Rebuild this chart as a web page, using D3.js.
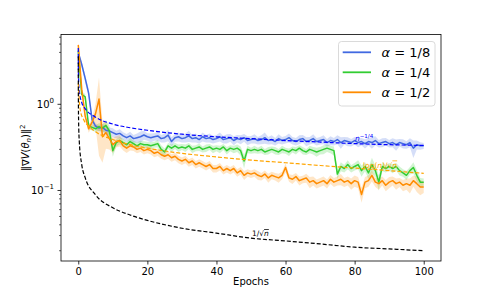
<!DOCTYPE html>
<html><head><meta charset="utf-8">
<script src="https://cdn.jsdelivr.net/npm/d3@7/dist/d3.min.js"></script>
<style>body{margin:0;background:#fff}svg{display:block;font-family:"DejaVu Sans",sans-serif}</style>
</head><body><svg id="c" width="491" height="294"></svg>
<script>
const epochs = d3.range(0, 101);
const seriesNames = ["α = 1/8", "α = 1/4", "α = 1/2"];
const seriesColors = ["#4169e1", "#32cd32", "#ff8c00"];
const blueVals = [
4.0,2.9,2.0,1.35,0.66,0.56,0.53,0.54,0.50,0.49,
0.47,0.45,0.46,0.43,0.41,0.43,0.40,0.41,0.42,0.44,
0.42,0.41,0.42,0.43,0.40,0.41,0.44,0.37,0.41,0.42,
0.40,0.41,0.43,0.40,0.41,0.39,0.42,0.40,0.41,0.39,
0.40,0.42,0.39,0.40,0.41,0.38,0.40,0.39,0.41,0.38,
0.39,0.40,0.38,0.39,0.41,0.38,0.39,0.37,0.40,0.38,
0.39,0.41,0.38,0.37,0.39,0.40,0.37,0.38,0.40,0.37,
0.38,0.39,0.36,0.38,0.37,0.39,0.36,0.38,0.37,0.36,
0.38,0.36,0.37,0.35,0.37,0.36,0.38,0.35,0.36,0.37,
0.35,0.36,0.34,0.36,0.35,0.34,0.36,0.31,0.34,0.33,0.33];
const greenVals = [
4.2,1.3,1.22,0.56,0.54,0.52,0.55,0.53,0.57,0.49,
0.29,0.36,0.38,0.36,0.34,0.37,0.35,0.33,0.35,0.34,
0.34,0.33,0.34,0.35,0.30,0.28,0.33,0.31,0.33,0.31,
0.32,0.31,0.33,0.30,0.31,0.32,0.30,0.31,0.32,0.30,
0.31,0.30,0.32,0.29,0.31,0.30,0.31,0.29,0.22,0.30,
0.29,0.30,0.29,0.30,0.28,0.29,0.30,0.29,0.28,0.30,
0.29,0.28,0.30,0.29,0.31,0.29,0.28,0.30,0.29,0.28,
0.29,0.30,0.31,0.30,0.29,0.155,0.19,0.18,0.20,0.18,
0.19,0.20,0.17,0.19,0.16,0.20,0.17,0.125,0.19,0.18,
0.19,0.18,0.19,0.17,0.16,0.15,0.17,0.185,0.15,0.125,0.125];
const orangeVals = [
4.9,1.5,0.73,0.52,0.62,0.78,1.15,0.42,0.47,0.40,
0.34,0.37,0.38,0.33,0.31,0.33,0.32,0.30,0.31,0.29,
0.30,0.29,0.27,0.28,0.26,0.25,0.26,0.24,0.25,0.23,
0.22,0.23,0.21,0.22,0.20,0.21,0.20,0.19,0.20,0.18,
0.18,0.19,0.17,0.18,0.17,0.18,0.16,0.17,0.15,0.16,
0.155,0.16,0.15,0.145,0.155,0.14,0.15,0.145,0.14,0.15,
0.185,0.14,0.135,0.145,0.13,0.135,0.14,0.125,0.13,0.12,
0.125,0.13,0.12,0.135,0.125,0.13,0.135,0.125,0.13,0.12,
0.13,0.125,0.09,0.125,0.13,0.15,0.125,0.12,0.13,0.115,
0.125,0.13,0.12,0.125,0.115,0.12,0.115,0.13,0.12,0.11,0.11];
// relative spread (std / mean) of the shaded bands
const blueSpread = [
0.05,0.08,0.1,0.1,0.1,0.08,0.08,0.1,0.1,0.1,
0.12,0.1,0.12,0.1,0.1,0.12,0.1,0.12,0.15,0.12,
0.1,0.12,0.1,0.12,0.1,0.12,0.15,0.12,0.1,0.12,
0.1,0.12,0.15,0.1,0.12,0.1,0.12,0.1,0.12,0.1,
0.1,0.12,0.1,0.12,0.1,0.12,0.1,0.12,0.1,0.12,
0.1,0.12,0.1,0.12,0.15,0.1,0.12,0.1,0.12,0.1,
0.1,0.12,0.1,0.1,0.12,0.1,0.12,0.1,0.12,0.1,
0.1,0.12,0.1,0.12,0.1,0.12,0.15,0.1,0.12,0.1,
0.1,0.12,0.1,0.12,0.1,0.15,0.12,0.1,0.12,0.1,
0.1,0.12,0.15,0.1,0.12,0.1,0.12,0.23,0.12,0.1,0.08];
const greenSpread = [
0.05,0.08,0.08,0.08,0.08,0.08,0.1,0.1,0.15,0.15,
0.15,0.1,0.1,0.1,0.08,0.1,0.08,0.1,0.08,0.1,
0.08,0.1,0.08,0.1,0.12,0.1,0.08,0.1,0.08,0.1,
0.08,0.1,0.08,0.1,0.08,0.1,0.08,0.1,0.08,0.1,
0.08,0.1,0.08,0.1,0.08,0.1,0.1,0.12,0.18,0.1,
0.08,0.1,0.08,0.1,0.08,0.1,0.08,0.1,0.08,0.1,
0.08,0.1,0.08,0.1,0.08,0.1,0.08,0.1,0.1,0.12,
0.1,0.12,0.1,0.1,0.12,0.12,0.12,0.1,0.12,0.1,
0.1,0.12,0.15,0.12,0.15,0.2,0.15,0.2,0.12,0.1,
0.1,0.12,0.1,0.12,0.1,0.12,0.1,0.15,0.15,0.12,0.1];
const orangeSpread = [
0.04,0.06,0.08,0.1,0.12,0.3,0.78,0.5,0.35,0.25,
0.2,0.15,0.15,0.12,0.12,0.12,0.1,0.1,0.1,0.1,
0.1,0.1,0.1,0.1,0.1,0.1,0.1,0.1,0.1,0.1,
0.1,0.1,0.1,0.1,0.1,0.1,0.1,0.1,0.1,0.1,
0.1,0.1,0.1,0.1,0.1,0.1,0.1,0.1,0.12,0.1,
0.1,0.1,0.12,0.1,0.1,0.12,0.1,0.1,0.12,0.1,
0.12,0.1,0.12,0.1,0.12,0.1,0.12,0.15,0.12,0.12,
0.12,0.12,0.12,0.12,0.12,0.12,0.15,0.12,0.12,0.15,
0.15,0.15,0.2,0.15,0.15,0.15,0.12,0.15,0.12,0.15,
0.15,0.12,0.15,0.12,0.15,0.15,0.2,0.15,0.2,0.2,0.15];
// reference rate curves
const refX = [0.003,0.01,0.03,0.1,0.3,1,2,5,10,15,20,30,40,50,60,70,80,90,100];
const rateQuarter = [4.5,3.33,2.53,1.87,1.42,1.05,0.89,0.71,0.59,0.535,0.50,0.45,0.42,0.40,0.38,0.365,0.35,0.34,0.333];
const rateHalf = [3.6,2.0,1.15,0.63,0.365,0.2,0.141,0.089,0.063,0.052,0.045,0.0365,0.032,0.028,0.026,0.024,0.022,0.021,0.02];
const logRateX = [0.01,0.3,0.6,1.5,3,5,10,15,20,30,40,50,60,70,80,90,100];
const logRate = [1.75,1.1,0.85,0.67,0.56,0.48,0.39,0.34,0.31,0.27,0.245,0.225,0.21,0.195,0.182,0.17,0.158];
const xTicks = [0,20,40,60,80,100];
const yMajor = [0.1, 1];

const svg = d3.select("#c");
const L = 61, R = 441, T = 34.5, B = 261;
const x = d3.scaleLinear().domain([-5, 105]).range([L, R]);
const y = d3.scaleLog().domain([Math.pow(10,-1.818), Math.pow(10,0.81)]).range([B, T]);

svg.append("defs").append("clipPath").attr("id","clip").append("rect")
  .attr("x",L).attr("y",T).attr("width",R-L).attr("height",B-T);
const g = svg.append("g").attr("clip-path","url(#clip)");

const vals = [blueVals, greenVals, orangeVals];
const spreads = [blueSpread, greenSpread, orangeSpread];
vals.forEach((v,i)=>{
  const area = d3.area().x(d=>x(d)).y0(d=>y(v[d]*(1-spreads[i][d]))).y1(d=>y(v[d]*(1+spreads[i][d])));
  g.append("path").attr("d",area(epochs)).attr("fill",seriesColors[i]).attr("fill-opacity",0.22);
});
vals.forEach((v,i)=>{
  const line = d3.line().x(d=>x(d)).y(d=>y(v[d]));
  g.append("path").attr("d",line(epochs)).attr("fill","none").attr("stroke",seriesColors[i]).attr("stroke-width",1.5).attr("stroke-linejoin","round");
});
function dashed(xs, ys, color){
  const line = d3.line().x((d,i)=>x(xs[i])).y(d=>y(d)).curve(d3.curveMonotoneX);
  g.append("path").attr("d",line(ys)).attr("fill","none").attr("stroke",color)
   .attr("stroke-width",1.2).attr("stroke-dasharray","4,2");
}
dashed(refX, rateQuarter, "#0000ff");
dashed(logRateX, logRate, "#ffa500");
dashed(refX, rateHalf, "#000000");

// annotations
const a1 = svg.append("text").attr("x",355).attr("y",141).attr("fill","#0000ff").attr("font-size",7.5);
a1.append("tspan").attr("font-style","italic").text("n");
a1.append("tspan").attr("dy",-3.5).attr("font-size",5.5).text("−1/4");
const a2 = svg.append("text").attr("x",363).attr("y",167.5).attr("fill","#ffa500").attr("font-size",7.5);
a2.append("tspan").text("log(");
a2.append("tspan").attr("font-style","italic").text("n");
a2.append("tspan").text(")/√");
a2.append("tspan").attr("font-style","italic").attr("text-decoration","overline").text("n");
const a3 = svg.append("text").attr("x",252).attr("y",236).attr("fill","#000").attr("font-size",7.5);
a3.append("tspan").text("1/√");
a3.append("tspan").attr("font-style","italic").attr("text-decoration","overline").text("n");

// axes frame
svg.append("rect").attr("x",L).attr("y",T).attr("width",R-L).attr("height",B-T)
  .attr("fill","none").attr("stroke","#000").attr("stroke-width",0.8);

const xa = svg.append("g").attr("transform",`translate(0,${B})`)
  .call(d3.axisBottom(x).tickValues(xTicks).tickSize(3.5).tickPadding(3.5).tickFormat(d3.format("d")));
xa.select(".domain").remove();
xa.selectAll("line").attr("stroke-width",0.8);
xa.selectAll("text").attr("font-size",10).attr("font-family","DejaVu Sans");

// y ticks: minor
const minor = [];
[0.01,0.1,1].forEach(b=>{for(let k=2;k<=9;k++){const v=b*k; if(v>=y.domain()[0]&&v<=y.domain()[1]) minor.push(v);}});
const ya = svg.append("g").attr("transform",`translate(${L},0)`);
ya.selectAll(".mn").data(minor).enter().append("line")
  .attr("x1",0).attr("x2",-2).attr("y1",d=>y(d)).attr("y2",d=>y(d)).attr("stroke","#000").attr("stroke-width",0.6);
ya.selectAll(".mj").data(yMajor).enter().append("line")
  .attr("x1",0).attr("x2",-3.5).attr("y1",d=>y(d)).attr("y2",d=>y(d)).attr("stroke","#000").attr("stroke-width",0.8);
yMajor.forEach(v=>{
  const t = ya.append("text").attr("x",-7).attr("y",y(v)+3.5).attr("text-anchor","end").attr("font-size",10);
  t.append("tspan").text("10");
  t.append("tspan").attr("dy",-4.5).attr("font-size",7).text(v===1?"0":"−1");
});

svg.append("text").attr("x",(L+R)/2).attr("y",284.5).attr("text-anchor","middle").attr("font-size",10).text("Epochs");
const yl = svg.append("text").attr("transform",`translate(29,${(T+B)/2}) rotate(-90)`).attr("text-anchor","middle").attr("font-size",10);
yl.append("tspan").text("‖∇");
yl.append("tspan").attr("font-style","italic").text("V");
yl.append("tspan").text("(");
yl.append("tspan").attr("font-style","italic").text("θ");
yl.append("tspan").attr("font-style","italic").attr("font-size",7).attr("dy",2).text("n");
yl.append("tspan").attr("dy",-2).text(")‖");
yl.append("tspan").attr("font-size",7).attr("dy",-4).text("2");

// legend
const lg = svg.append("g");
lg.append("rect").attr("x",338.5).attr("y",41.5).attr("width",96.5).attr("height",64.5).attr("rx",3)
  .attr("fill","#fff").attr("fill-opacity",0.8).attr("stroke","#d0d0d0").attr("stroke-width",0.8);
seriesNames.forEach((n,i)=>{
  const yy = 52.3 + i*20;
  lg.append("line").attr("x1",342.7).attr("x2",371).attr("y1",yy).attr("y2",yy).attr("stroke",seriesColors[i]).attr("stroke-width",1.8);
  const t = lg.append("text").attr("x",381.5).attr("y",yy+4.7).attr("font-size",13);
  t.append("tspan").attr("font-style","italic").text("α");
  t.append("tspan").text(n.slice(1));
});
</script></body></html>
